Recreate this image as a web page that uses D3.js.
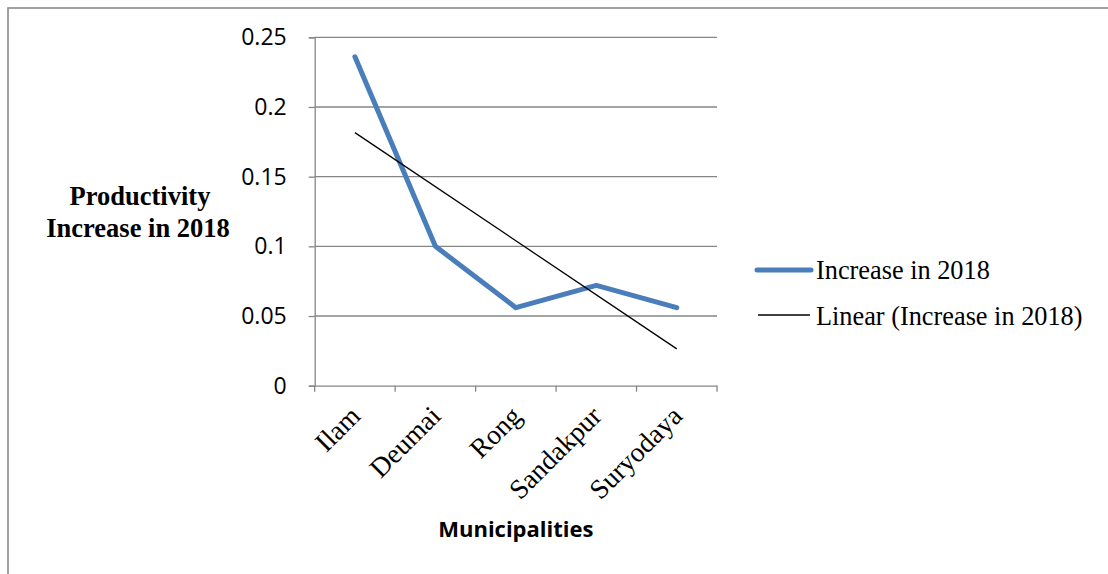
<!DOCTYPE html>
<html><head><meta charset="utf-8">
<script src="https://cdn.jsdelivr.net/npm/d3@7"></script>
<style>body{margin:0;background:#fff;}svg{display:block;}</style>
</head><body>
<svg id="c" width="1108" height="574"></svg>
<script>
const categories = ["Ilam","Deumai","Rong","Sandakpur","Suryodaya"];
const values = [0.236, 0.100, 0.056, 0.072, 0.056];
const yTicks = [0, 0.05, 0.1, 0.15, 0.2, 0.25];
const seriesName = "Increase in 2018";
const trendName = "Linear (Increase in 2018)";

const svg = d3.select("#c");
const L = 314.7, R = 717, T = 37.3, B = 385.7;
const x = d3.scaleBand().domain(categories).range([L, R]);
const y = d3.scaleLinear().domain([0, 0.25]).range([B, T]);
const grid = "#868686";

// outer border
svg.append("rect").attr("x", 8).attr("y", 8).attr("width", 1300).attr("height", 1300)
  .attr("fill", "none").attr("stroke", "#8a8a8a").attr("stroke-width", 1.6);

// gridlines
svg.append("g").selectAll("line").data(yTicks.filter(d => d > 0)).join("line")
  .attr("x1", L).attr("x2", R).attr("y1", d => y(d)).attr("y2", d => y(d))
  .attr("stroke", grid).attr("stroke-width", 1.3);

// y axis
const yAx = svg.append("g").attr("transform", `translate(${L},0)`)
  .call(d3.axisLeft(y).tickValues(yTicks).tickSize(6).tickPadding(22).tickFormat(d => String(d)));
yAx.select(".domain").attr("stroke", grid).attr("stroke-width", 1.3);
yAx.selectAll(".tick line").attr("stroke", grid).attr("stroke-width", 1.3);
yAx.selectAll("text").attr("font-family", "'Open Sans', sans-serif").attr("font-size", 23).attr("fill", "#000");

// x axis
const xAx = svg.append("g").attr("transform", `translate(0,${B})`)
  .call(d3.axisBottom(x).tickSize(0).tickFormat(""));
xAx.select(".domain").attr("stroke", grid).attr("stroke-width", 1.3);
const bounds = categories.map(c => x(c)).concat([R]);
svg.append("g").selectAll("line").data(bounds).join("line")
  .attr("x1", d => d).attr("x2", d => d).attr("y1", B).attr("y2", B + 6)
  .attr("stroke", grid).attr("stroke-width", 1.3);
svg.append("g").selectAll("text").data(categories).join("text")
  .attr("transform", d => `translate(${x(d) + x.bandwidth()/2 + 7},${B + 32}) rotate(-45)`)
  .attr("text-anchor", "end")
  .attr("font-family", "'Liberation Serif', 'Times New Roman', serif").attr("font-size", 27.5)
  .text(d => d);

// series line
const cx = d => x(d) + x.bandwidth()/2;
svg.append("path").datum(categories.map((c, i) => [cx(c), y(values[i])]))
  .attr("d", d3.line()).attr("fill", "none").attr("stroke", "#4a7ebb")
  .attr("stroke-width", 5).attr("stroke-linejoin", "round").attr("stroke-linecap", "round");

// linear trendline (least squares)
const n = values.length;
const xs = values.map((_, i) => i + 1);
const mx = d3.mean(xs), my = d3.mean(values);
const slope = d3.sum(xs.map((xi, i) => (xi - mx) * (values[i] - my))) / d3.sum(xs.map(xi => (xi - mx) ** 2));
const icpt = my - slope * mx;
svg.append("line")
  .attr("x1", cx(categories[0])).attr("y1", y(icpt + slope * 1))
  .attr("x2", cx(categories[n-1])).attr("y2", y(icpt + slope * n))
  .attr("stroke", "#000").attr("stroke-width", 1.3);

// axis titles
const yt = svg.append("text").attr("text-anchor", "middle")
  .attr("font-family", "'Liberation Serif', 'Times New Roman', serif").attr("font-size", 26.5).attr("font-weight", "bold");
yt.append("tspan").attr("x", 140).attr("y", 205).text("Productivity");
yt.append("tspan").attr("x", 138).attr("y", 237).text("Increase in 2018");

svg.append("text").attr("x", (L + R)/2).attr("y", 537).attr("text-anchor", "middle")
  .attr("font-family", "'Open Sans', sans-serif").attr("font-size", 22).attr("font-weight", "bold")
  .text("Municipalities");

// legend
const lg = svg.append("g");
lg.append("line").attr("x1", 757).attr("x2", 811).attr("y1", 270).attr("y2", 270)
  .attr("stroke", "#4a7ebb").attr("stroke-width", 5).attr("stroke-linecap", "round");
lg.append("text").attr("x", 816).attr("y", 279).attr("font-family", "'Liberation Serif', 'Times New Roman', serif")
  .attr("font-size", 26.3).text(seriesName);
lg.append("line").attr("x1", 758).attr("x2", 810).attr("y1", 315).attr("y2", 315)
  .attr("stroke", "#000").attr("stroke-width", 1.3);
lg.append("text").attr("x", 816).attr("y", 325).attr("font-family", "'Liberation Serif', 'Times New Roman', serif")
  .attr("font-size", 26.3).text(trendName);
</script>
</body></html>
